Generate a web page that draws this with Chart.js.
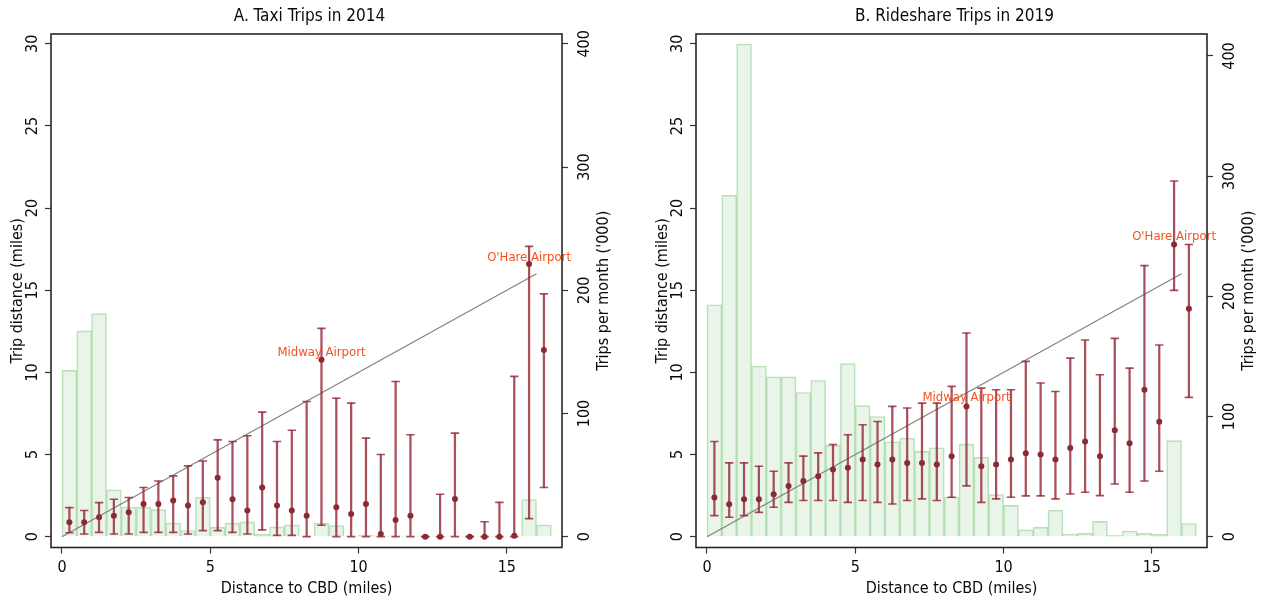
<!DOCTYPE html>
<html>
<head>
<meta charset="utf-8">
<script src="https://cdn.jsdelivr.net/npm/chart.js@4.4.1/dist/chart.umd.min.js"></script>
<style>
  html, body { margin: 0; padding: 0; background: #fff; }
  body { width: 1264px; height: 601px; position: relative; overflow: hidden; }
  .panel { position: absolute; top: 0; width: 619px; height: 601px; }
</style>
</head>
<body>
<div class="panel" style="left:0"><canvas id="taxi" width="619" height="601"></canvas></div>
<div class="panel" style="left:645px"><canvas id="ride" width="619" height="601"></canvas></div>
<script>
(function () {
  'use strict';

  // half-mile distance bins (centres)
  var bins = [0.25, 0.75, 1.25, 1.75, 2.25, 2.75, 3.25, 3.75, 4.25, 4.75, 5.25,
    5.75, 6.25, 6.75, 7.25, 7.75, 8.25, 8.75, 9.25, 9.75, 10.25, 10.75, 11.25,
    11.75, 12.25, 12.75, 13.25, 13.75, 14.25, 14.75, 15.25, 15.75, 16.25];

  // trips per month ('000) in each bin
  var taxiTrips = [135, 167, 181, 38, 24, 24, 22, 11, 5, 32, 7.5, 11, 12, 2, 8, 9.5,
    0.5, 11, 9, 0.5, 1, 0.5, 0.5, 0.5, 0.5, 0.5, 0.5, 0.5, 0.5, 0.5, 0.5, 30, 9.5];
  var rideTrips = [193, 284, 410, 142, 133, 133, 120, 130, 76, 144, 109, 100, 79, 82,
    71, 74, 33, 77, 66, 35, 26, 5.6, 7.8, 22, 2.2, 2.8, 12.8, 1.1, 4.7, 2.8, 1.9, 80, 11];

  // mean trip distance (miles) with the ends of each interval
  var taxiMean = [0.87, 0.87, 1.18, 1.28, 1.48, 1.99, 1.99, 2.2, 1.89, 2.09, 3.58, 2.28,
    1.59, 2.99, 1.89, 1.59, 1.28, 10.77, 1.79, 1.38, 1.99, 0.16, 1.02, 1.28, 0, 0,
    2.3, 0, 0, 0, 0.06, 16.6, 11.36];
  var taxiHigh = [1.77, 1.59, 2.07, 2.28, 2.38, 2.99, 3.39, 3.7, 4.31, 4.61, 5.89, 5.79,
    6.14, 7.58, 5.79, 6.48, 8.23, 12.68, 8.43, 8.13, 6.0, 5.0, 9.45, 6.2, 0, 2.58,
    6.3, 0, 0.91, 2.09, 9.76, 17.67, 14.78];
  var taxiLow = [0.24, 0.16, 0.26, 0.16, 0.16, 0.26, 0.26, 0.26, 0.16, 0.37, 0.37, 0.26,
    0.16, 0.41, 0.08, 0.08, 0, 0.69, 0, 0, 0, 0, 0, 0, 0, 0, 0, 0, 0, 0, 0, 1.1, 2.99];

  var rideMean = [2.38, 1.97, 2.28, 2.28, 2.58, 3.09, 3.39, 3.68, 4.09, 4.19, 4.7, 4.39,
    4.7, 4.49, 4.49, 4.39, 4.9, 7.93, 4.29, 4.39, 4.7, 5.08, 5.0, 4.7, 5.39, 5.79,
    4.9, 6.48, 5.69, 8.94, 6.99, 17.79, 13.88];
  var rideHigh = [5.79, 4.49, 4.49, 4.29, 3.98, 4.49, 4.9, 5.1, 5.61, 6.2, 6.81, 7.01,
    7.93, 7.83, 8.13, 8.13, 9.15, 12.4, 9.04, 8.94, 8.94, 10.67, 9.35, 8.84, 10.87,
    11.97, 9.86, 12.07, 10.26, 16.5, 11.67, 21.65, 17.79];
  var rideLow = [1.28, 1.18, 1.28, 1.48, 1.79, 2.09, 2.2, 2.2, 2.2, 2.09, 2.2, 2.09,
    1.99, 2.2, 2.3, 2.2, 2.4, 3.09, 2.09, 2.3, 2.4, 2.48, 2.48, 2.3, 2.6, 2.7, 2.5,
    3.21, 2.7, 3.39, 3.98, 14.99, 8.48];

  // 45-degree reference line
  var diagX = [0, 16];
  var diagY = [0, 16];

  // airport call-outs
  var airportNames = ["O'Hare Airport", 'Midway Airport'];
  var taxiLabelX = [15.75, 8.75];
  var taxiLabelY = [17.0, 11.22];
  var rideLabelX = [15.75, 8.75];
  var rideLabelY = [18.27, 8.46];

  var xTicks = [0, 5, 10, 15];
  var yTicks = [0, 5, 10, 15, 20, 25, 30];
  var y2Ticks = [0, 100, 200, 300, 400];

  var FONT = "'Liberation Sans Narrow', 'DejaVu Sans Condensed', 'Noto Sans', sans-serif";
  var INK = '#0a0a0a';
  var BAR_RED = 'rgba(150, 42, 58, 0.82)';
  var DOT_RED = '#8a2a33';

  function pts(xs, ys) {
    return xs.map(function (x, i) { return { x: x, y: ys[i] }; });
  }

  function fixTicks(list) {
    return function (s) { s.ticks = list.map(function (v) { return { value: v }; }); };
  }

  // box around the plot plus the right-hand axis title
  var framePlugin = {
    id: 'frame',
    afterDraw: function (chart) {
      var a = chart.chartArea, ctx = chart.ctx;
      ctx.save();
      ctx.strokeStyle = '#262626';
      ctx.lineWidth = 1.6;
      ctx.strokeRect(a.left, a.top, a.right - a.left, a.bottom - a.top);
      ctx.translate(604, (a.top + a.bottom) / 2);
      ctx.rotate(-Math.PI / 2);
      ctx.font = '16px ' + FONT;
      ctx.fillStyle = INK;
      ctx.textAlign = 'center';
      ctx.textBaseline = 'middle';
      ctx.fillText("Trips per month ('000)", 0, 0);
      ctx.restore();
    }
  };

  var airportPlugin = {
    id: 'airports',
    afterDatasetsDraw: function (chart, args, opts) {
      var ctx = chart.ctx, sx = chart.scales.x, sy = chart.scales.y;
      ctx.save();
      ctx.font = '13px ' + FONT;
      ctx.fillStyle = '#f4511e';
      ctx.textAlign = 'center';
      ctx.textBaseline = 'middle';
      opts.names.forEach(function (n, i) {
        ctx.fillText(n, sx.getPixelForValue(opts.x[i]), sy.getPixelForValue(opts.y[i]));
      });
      ctx.restore();
    }
  };

  function panel(id, title, trips, mean, low, high, labelX, labelY, y2max, y2min) {
    var stems = bins.map(function (x, i) { return { x: x, y: [low[i], high[i]] }; });
    new Chart(document.getElementById(id), {
      data: {
        datasets: [{
          type: 'bar',
          yAxisID: 'y2',
          data: pts(bins, trips),
          backgroundColor: 'rgba(205, 232, 205, 0.45)',
          borderColor: 'rgba(160, 212, 160, 0.75)',
          borderWidth: 1,
          barPercentage: 1,
          categoryPercentage: 1,
          grouped: false,
          order: 5
        }, {
          type: 'line',
          yAxisID: 'y',
          data: pts(diagX, diagY),
          borderColor: '#7f7f7f',
          borderWidth: 1.1,
          pointRadius: 0,
          order: 4
        }, {
          type: 'bar',
          yAxisID: 'y',
          data: stems,
          backgroundColor: BAR_RED,
          borderWidth: 0,
          barThickness: 1.6,
          grouped: false,
          order: 3
        }, {
          type: 'scatter',
          yAxisID: 'y',
          data: pts(bins, high).concat(pts(bins, low)),
          pointStyle: 'line',
          radius: 4.2,
          borderColor: BAR_RED,
          borderWidth: 1.6,
          order: 2
        }, {
          type: 'scatter',
          yAxisID: 'y',
          data: pts(bins, mean),
          pointStyle: 'circle',
          radius: 3,
          backgroundColor: DOT_RED,
          borderColor: DOT_RED,
          borderWidth: 0,
          order: 1
        }]
      },
      options: {
        responsive: false,
        animation: false,
        events: [],
        layout: { padding: 0 },
        plugins: {
          legend: { display: false },
          tooltip: { enabled: false },
          title: {
            display: true,
            text: title,
            color: INK,
            font: { family: FONT, size: 17, weight: 'normal', lineHeight: 1.2 },
            padding: { top: 6, bottom: 7.6 }
          },
          airports: { names: airportNames, x: labelX, y: labelY }
        },
        scales: {
          x: {
            type: 'linear',
            min: -0.37,
            max: 16.86,
            offset: false,
            afterBuildTicks: fixTicks(xTicks),
            afterFit: function (s) { s.height = 53.5; },
            border: { display: false },
            grid: { offset: false, drawOnChartArea: false, tickLength: 6, color: '#333', tickWidth: 1.2 },
            ticks: { color: INK, font: { family: FONT, size: 16 }, padding: 5, maxRotation: 0 },
            title: {
              display: true,
              text: 'Distance to CBD (miles)',
              color: INK,
              font: { family: FONT, size: 16, lineHeight: 1.2 },
              padding: { top: 0, bottom: 3 }
            }
          },
          y: {
            type: 'linear',
            position: 'left',
            min: -0.66,
            max: 30.6,
            afterBuildTicks: fixTicks(yTicks),
            afterFit: function (s) { s.width = 51; },
            border: { display: false },
            grid: { drawOnChartArea: false, tickLength: 6, color: '#333', tickWidth: 1.2 },
            ticks: {
              color: INK, font: { family: FONT, size: 16 }, padding: 3,
              minRotation: 90, maxRotation: 90, crossAlign: 'center'
            },
            title: {
              display: true,
              text: 'Trip distance (miles)',
              color: INK,
              font: { family: FONT, size: 16, lineHeight: 1.2 },
              padding: { top: 8, bottom: 0 }
            }
          },
          y2: {
            type: 'linear',
            position: 'right',
            min: y2min,
            max: y2max,
            afterBuildTicks: fixTicks(y2Ticks),
            afterFit: function (s) { s.width = 57; },
            border: { display: false },
            grid: { drawOnChartArea: false, tickLength: 6, color: '#333', tickWidth: 1.2 },
            ticks: {
              color: INK, font: { family: FONT, size: 16 }, padding: 3,
              minRotation: 90, maxRotation: 90, crossAlign: 'center'
            }
          }
        }
      },
      plugins: [framePlugin, airportPlugin]
    });
  }

  panel('taxi', 'A. Taxi Trips in 2014', taxiTrips, taxiMean, taxiLow, taxiHigh,
    taxiLabelX, taxiLabelY, 408, -8.8);
  panel('ride', 'B. Rideshare Trips in 2019', rideTrips, rideMean, rideLow, rideHigh,
    rideLabelX, rideLabelY, 418.3, -9.0);
})();
</script>
</body>
</html>
